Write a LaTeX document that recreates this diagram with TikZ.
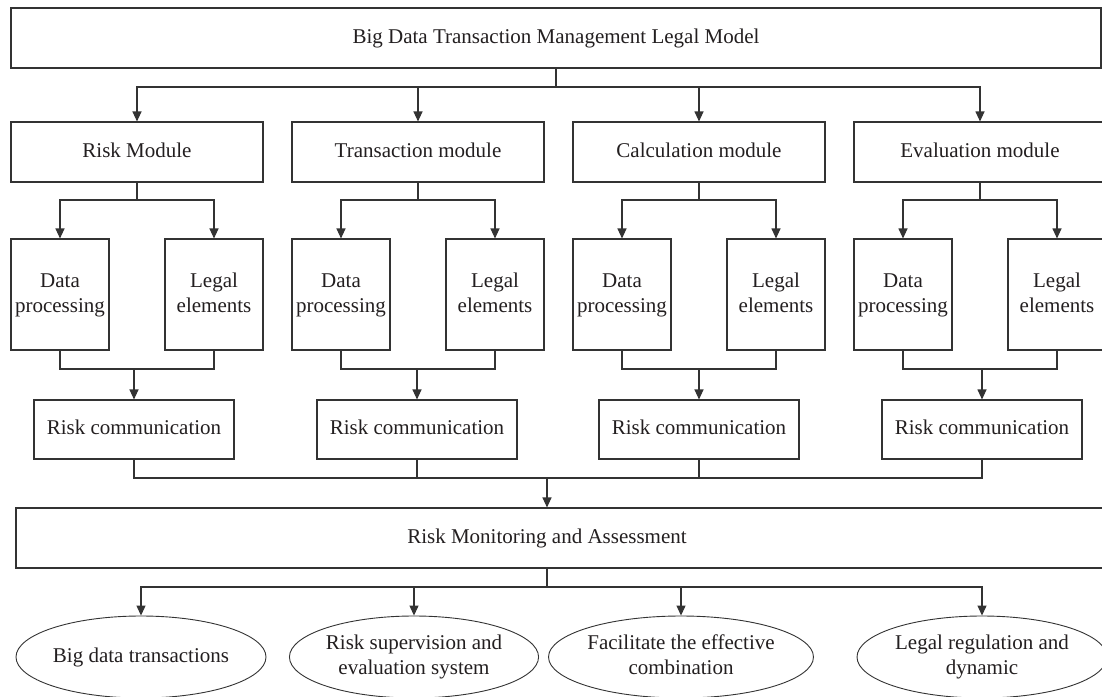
\documentclass[tikz,border=0pt]{standalone}
\usepackage{fontspec}
\setmainfont{Liberation Serif}
\usetikzlibrary{arrows.meta,shapes.geometric}
\definecolor{ink}{HTML}{231F20}
\definecolor{edge}{HTML}{333333}
\begin{document}
\begin{tikzpicture}[x=1pt,y=-1pt,
  font=\fontsize{21}{25}\selectfont, text=ink,
  box/.style={draw=edge,line width=1.1pt,fill=white,rectangle,inner sep=0pt,align=center},
  oval/.style={draw=edge,line width=0.9pt,fill=white,ellipse,inner sep=0pt,align=center,minimum height=82pt},
  conn/.style={draw=edge,line width=1.1pt},
  arr/.style={conn,-{Triangle[length=10pt,width=9pt]}}]
\useasboundingbox (0,0) rectangle (1102,696);
\fill[white] (0,0) rectangle (1102,696);
% top
\node[box,minimum width=1090pt,minimum height=60pt] (top) at (556,38) {\strut Big Data Transaction Management Legal Model};
\coordinate (tj) at (556,87);
% groups
\foreach \i/\c/\r/\t in {1/137/134/Risk Module,2/418/417/Transaction module,3/699/699/Calculation module,4/980/982/Evaluation module}{
  \node[box,minimum width=252pt,minimum height=60pt] (m\i) at (\c,152) {\strut\t};
  \node[box,minimum width=98pt,minimum height=111pt] (d\i) at (\c-77,294.5) {\strut Data\\\strut processing};
  \node[box,minimum width=98pt,minimum height=111pt] (l\i) at (\c+77,294.5) {\strut Legal\\\strut elements};
  \node[box,minimum width=200pt,minimum height=59pt] (r\i) at (\r,429.5) {\strut Risk communication};
  \coordinate (s\i) at (\c,200);
  \coordinate (j\i) at (\r,369);
}
% monitoring
\node[box,minimum width=1100pt,minimum height=60pt] (mon) at (566,538) {};
\node (monl) at (547,538) {\strut Risk Monitoring and Assessment};
\coordinate (bj) at (547,478);
\coordinate (mj) at (547,587);
% ellipses
\node[oval,minimum width=250pt] (e1) at (141,657) {\strut Big data transactions};
\node[oval,minimum width=237pt] (e2) at (414,657) {\strut Risk supervision and\\\strut evaluation system};
\node[oval,minimum width=237pt] (e3) at (681,657) {\strut Facilitate the effective\\\strut combination};
\node[oval,minimum width=250pt] (e4) at (982,657) {\strut Legal regulation and\\\strut dynamic};
% connectors
\foreach \i in {1,2,3,4}{
  \draw[arr] (top.south) -- (tj) -| (m\i.north);
  \draw[arr] (m\i.south) -- (s\i) -| (d\i.north);
  \draw[arr] (m\i.south) -- (s\i) -| (l\i.north);
  \draw[conn] (d\i.south) |- (j\i);
  \draw[conn] (l\i.south) |- (j\i);
  \draw[arr] (j\i) -- (r\i.north);
  \draw[conn] (r\i.south) |- (bj);
  \draw[arr] (bj |- mon.south) -- (mj) -| (e\i.north);
}
\draw[arr] (bj) -- (bj |- mon.north);
\end{tikzpicture}
\end{document}
